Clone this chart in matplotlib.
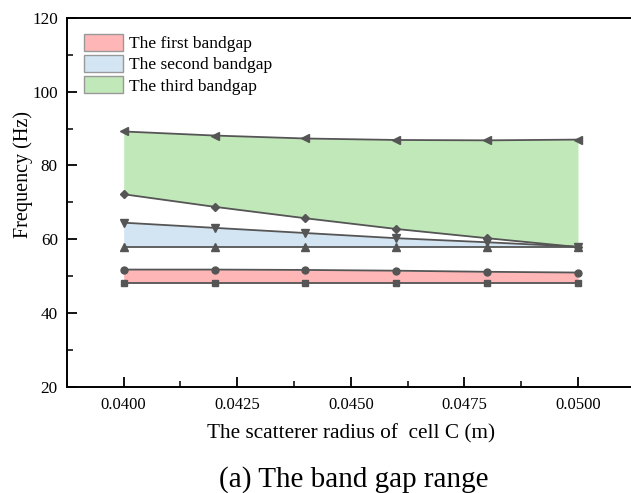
import matplotlib
matplotlib.use("Agg")
import matplotlib.pyplot as plt
from matplotlib.patches import Patch
from matplotlib.ticker import MultipleLocator, FormatStrFormatter

plt.rcParams['font.family'] = ['Liberation Serif', 'DejaVu Serif']
plt.rcParams['mathtext.fontset'] = 'stix'

radius = [0.040, 0.042, 0.044, 0.046, 0.048, 0.050]

first_lower = [48.1, 48.1, 48.1, 48.1, 48.1, 48.1]
first_upper = [51.8, 51.8, 51.7, 51.5, 51.2, 51.0]
second_lower = [58.0, 58.0, 58.0, 58.0, 58.0, 58.0]
second_upper = [64.5, 63.1, 61.7, 60.3, 59.2, 58.0]
third_lower = [72.2, 68.8, 65.7, 62.8, 60.3, 57.9]
third_upper = [89.2, 88.1, 87.3, 86.9, 86.8, 87.0]

band_labels = ['The first bandgap', 'The second bandgap', 'The third bandgap']
band_colors = ['#ffb6b6', '#d3e5f3', '#c1e8b9']

line_color = '#555555'

fig = plt.figure(figsize=(6.31, 4.93), dpi=100)
ax = fig.add_axes([0.106, 0.215, 0.90, 0.749])

bands = [(first_lower, first_upper), (second_lower, second_upper),
         (third_lower, third_upper)]
for (lo, hi), color in zip(bands, band_colors):
    ax.fill_between(radius, lo, hi, color=color, linewidth=0, zorder=1)

curves = [(first_lower, 's', 4.6), (first_upper, 'o', 5.0),
          (second_lower, '^', 5.2), (second_upper, 'v', 5.2),
          (third_lower, 'D', 4.2), (third_upper, '<', 5.2)]
for vals, mk, ms in curves:
    ax.plot(radius, vals, color=line_color, lw=1.3, marker=mk, ms=ms,
            mfc=line_color, mec=line_color, zorder=3)

ax.set_xlim(0.03875, 0.05125)
ax.set_ylim(20, 120)
ax.xaxis.set_major_locator(MultipleLocator(0.0025))
ax.xaxis.set_minor_locator(MultipleLocator(0.00125))
ax.yaxis.set_major_locator(MultipleLocator(20))
ax.yaxis.set_minor_locator(MultipleLocator(10))
ax.xaxis.set_major_formatter(FormatStrFormatter('%.4f'))

ax.tick_params(which='major', direction='in', length=7, width=1.3,
               top=False, right=False)
ax.tick_params(which='minor', direction='in', length=4, width=1.1,
               top=False, right=False)
ax.tick_params(axis='x', which='major', pad=7, labelsize=12)
ax.tick_params(axis='y', which='major', pad=6.5, labelsize=12.3)
for side in ['left', 'bottom', 'top', 'right']:
    ax.spines[side].set_linewidth(1.4)

ax.set_xlabel('The scatterer radius of  cell C (m)', fontsize=15.3,
              labelpad=8)
ax.set_ylabel('Frequency (Hz)', fontsize=14.5, labelpad=4)
ax.yaxis.set_label_coords(-0.060, 0.575)

handles = [Patch(facecolor=c, edgecolor='#999999', linewidth=1.0)
           for c in band_colors]
ax.legend(handles, band_labels, loc='upper left',
          bbox_to_anchor=(0.030, 0.956), frameon=False, fontsize=12.5,
          handlelength=2.25, handleheight=1.1, handletextpad=0.35,
          labelspacing=0.17, borderpad=0.0, borderaxespad=0.0)

fig.text(0.56, 0.012, '(a) The band gap range', ha='center',
         va='baseline', fontsize=21)

fig.savefig('out.png', dpi=100)
